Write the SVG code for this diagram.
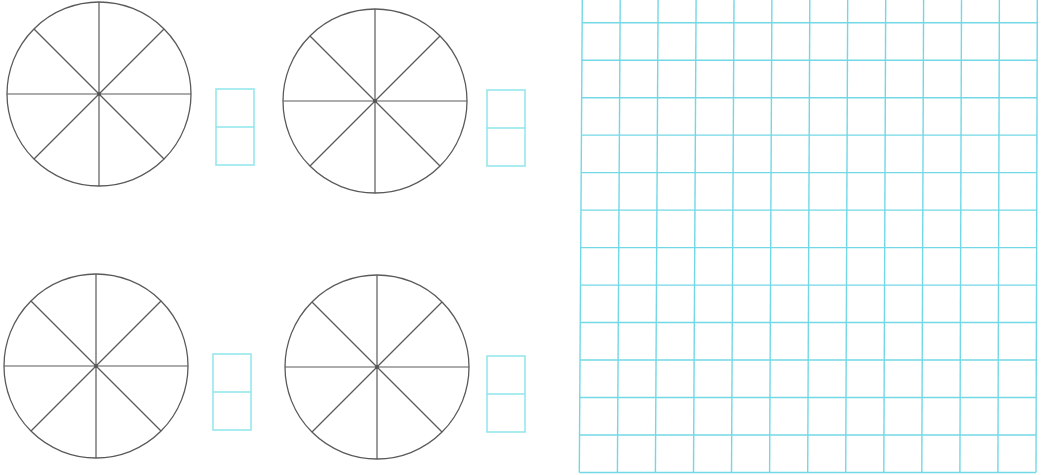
<svg xmlns="http://www.w3.org/2000/svg" width="1041" height="475" viewBox="0 0 1041 475">
<style>
.c{fill:none;stroke:#5a5a5a;stroke-width:1.3}
.s{stroke:#5a5a5a;stroke-width:1.2}
.b{fill:none;stroke:#8ee6ea;stroke-width:1.5}
.g{stroke:#72d8e6;stroke-width:1.4}
</style>
<defs>
<g id="wheel">
<circle class="c" r="92"/>
<line class="s" x1="-92" y1="0" x2="92" y2="0"/>
<line class="s" x1="0" y1="-92" x2="0" y2="92"/>
<line class="s" x1="-65" y1="-65" x2="65" y2="65"/>
<line class="s" x1="65" y1="-65" x2="-65" y2="65"/>
<circle r="2" fill="#555"/>
</g>
<g id="box">
<rect class="b" x="0" y="0" width="38" height="76"/>
<line class="b" x1="0" y1="38" x2="38" y2="38"/>
</g>
</defs>
<rect width="1041" height="475" fill="#fff"/>
<g id="circle1"><use href="#wheel" x="99" y="94"/></g>
<g id="circle2"><use href="#wheel" x="375" y="101"/></g>
<g id="circle3"><use href="#wheel" x="96" y="366"/></g>
<g id="circle4"><use href="#wheel" x="377" y="367"/></g>
<g id="box1"><use href="#box" x="216" y="89"/></g>
<g id="box2"><use href="#box" x="487" y="90"/></g>
<g id="box3"><use href="#box" x="213" y="354"/></g>
<g id="box4"><use href="#box" x="487" y="356"/></g>
<g id="grid">
<line class="g" x1="582.3" y1="0" x2="579.3" y2="472.5"/>
<line class="g" x1="620.2" y1="0" x2="617.4" y2="472.5"/>
<line class="g" x1="658.1" y1="0" x2="655.4" y2="472.5"/>
<line class="g" x1="696.1" y1="0" x2="693.5" y2="472.5"/>
<line class="g" x1="734.0" y1="0" x2="731.5" y2="472.5"/>
<line class="g" x1="771.9" y1="0" x2="769.6" y2="472.5"/>
<line class="g" x1="809.8" y1="0" x2="807.7" y2="472.5"/>
<line class="g" x1="847.7" y1="0" x2="845.7" y2="472.5"/>
<line class="g" x1="885.7" y1="0" x2="883.8" y2="472.5"/>
<line class="g" x1="923.6" y1="0" x2="921.8" y2="472.5"/>
<line class="g" x1="961.5" y1="0" x2="959.9" y2="472.5"/>
<line class="g" x1="999.4" y1="0" x2="997.9" y2="472.5"/>
<line class="g" x1="1037.3" y1="0" x2="1036.0" y2="472.5"/>
<line class="g" x1="582.2" y1="22.7" x2="1037.2" y2="22.7"/>
<line class="g" x1="581.9" y1="60.2" x2="1037.1" y2="60.2"/>
<line class="g" x1="581.7" y1="97.7" x2="1037.0" y2="97.7"/>
<line class="g" x1="581.4" y1="135.1" x2="1036.9" y2="135.1"/>
<line class="g" x1="581.2" y1="172.6" x2="1036.8" y2="172.6"/>
<line class="g" x1="581.0" y1="210.1" x2="1036.7" y2="210.1"/>
<line class="g" x1="580.7" y1="247.6" x2="1036.6" y2="247.6"/>
<line class="g" x1="580.5" y1="285.1" x2="1036.5" y2="285.1"/>
<line class="g" x1="580.3" y1="322.5" x2="1036.4" y2="322.5"/>
<line class="g" x1="580.0" y1="360.0" x2="1036.3" y2="360.0"/>
<line class="g" x1="579.8" y1="397.5" x2="1036.2" y2="397.5"/>
<line class="g" x1="579.5" y1="435.0" x2="1036.1" y2="435.0"/>
<line class="g" x1="579.3" y1="472.5" x2="1036.0" y2="472.5"/>
</g>
</svg>
